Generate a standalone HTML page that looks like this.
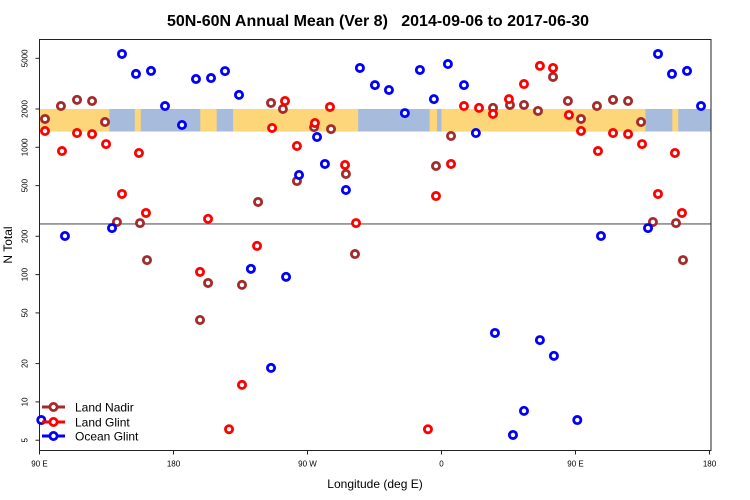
<!DOCTYPE html>
<html><head><meta charset="utf-8"><style>
html,body{margin:0;padding:0;background:#fff;}
svg{display:block;font-family:"Liberation Sans",Arial,sans-serif;}
</style></head><body>
<svg id="chart" width="750" height="500" viewBox="0 0 750 500" xmlns="http://www.w3.org/2000/svg">
<text x="378" y="26" text-anchor="middle" font-size="16" font-weight="bold" textLength="422" lengthAdjust="spacingAndGlyphs">50N-60N Annual Mean (Ver 8)&#160;&#160;&#160;2014-09-06 to 2017-06-30</text>
<g id="band"></g>
<g id="grid"></g>
<g id="axes"></g>
<g id="marks"></g>
<text x="375" y="488" text-anchor="middle" font-size="12">Longitude (deg E)</text>
<text transform="translate(12,245) rotate(-90)" text-anchor="middle" font-size="12">N Total</text>
<g id="legend"></g>
</svg>
<script>
const nadirLon = [93.7,104.4,115.2,125.3,134.0,142.0,157.5,162.2,197.8,203.2,226.0,236.8,245.5,253.5,274.4,285.8,262.9,295.8,301.9,6.4,356.3,34.6,46.0,55.4,64.8,74.9,84.9];
const nadirN   = [1670,2110,2360,2310,1580,259,254,130,44,86,83,372,2230,2000,1440,1390,543,617,145,1227,713,2040,2150,2150,1930,3570,2310];
const glintLon = [93.7,105.1,115.2,125.3,134.7,145.4,156.8,161.5,197.8,203.2,217.3,226.0,236.1,246.2,254.9,262.9,275.0,285.1,295.2,302.6,350.9,356.3,6.4,15.1,25.2,34.6,45.3,55.4,66.1,74.9,85.6];
const glintN   = [1343,935,1295,1270,1060,430,902,305,105,274,6.1,13.6,168,1418,2310,1024,1552,2075,726,254,6.1,414,740,2110,2040,1830,2390,3140,4360,4200,1795];
const oceanLon = [91.2,107.1,138.7,145.4,154.8,164.9,174.3,185.7,195.1,205.2,214.6,224.0,232.0,245.5,255.6,264.3,276.4,281.7,295.8,305.2,315.3,324.7,335.4,345.5,354.9,4.3,15.1,23.1,35.9,48.0,55.4,66.1,75.5];
const oceanN   = [7.2,201,232,5410,3770,3980,2110,1497,3440,3500,3970,2580,111,18.5,96,606,1205,740,462,4200,3080,2820,1857,4050,2390,4510,3080,1295,34.8,5.5,8.5,30.6,23];
const yTicks = [5,10,20,50,100,200,500,1000,2000,5000];
const xTicks = [90,180,270,360,450,540];
const xTickLabels = ["90 E","180","90 W","0","90 E","180"];
const refLine = 250;

const NS="http://www.w3.org/2000/svg";
const L=39.5,R=711,T=39.5,B=450.5;
function xs(lon){return L+(lon-90)*(134/90);}
function ys(v){return 147.3-127.3*Math.log10(v/1000);}
function mk(tag,attrs,parent){const e=document.createElementNS(NS,tag);for(const k in attrs)e.setAttribute(k,attrs[k]);parent.appendChild(e);return e;}

const band=document.getElementById('band');
const yb1=ys(2000), yb2=ys(1330);
mk('rect',{x:L,y:yb1,width:R-L,height:yb2-yb1,fill:'#a7bcdc'},band);
[[90,137],[154,158],[198,209],[220,304],[352,357],[360,487],[450,497],[515,519]].forEach(s=>{
  mk('rect',{x:xs(s[0]),y:yb1,width:xs(s[1])-xs(s[0]),height:yb2-yb1,fill:'#fdd679'},band);
});

const grid=document.getElementById('grid');
const rl=mk('line',{x1:L,x2:R,y1:ys(refLine),y2:ys(refLine),stroke:'#777',"stroke-width":1.3},grid);



const ax=document.getElementById('axes');
mk('rect',{x:L,y:T,width:R-L,height:B-T,fill:'none',stroke:'#222',"stroke-width":1},ax);
yTicks.forEach(v=>{
  const y=ys(v);
  mk('line',{x1:L-4,x2:L,y1:y,y2:y,stroke:'#222'},ax);
  const t=mk('text',{transform:`translate(${L-12},${y}) rotate(-90)`,"text-anchor":"middle","font-size":8},ax);
  t.textContent=v;
  
  
});
xTicks.forEach((v,i)=>{
  const x=xs(v);
  mk('line',{x1:x,x2:x,y1:B,y2:B+4,stroke:'#222'},ax);
  const t=mk('text',{x:x,y:B+16,"text-anchor":"middle","font-size":8},ax);
  t.textContent=xTickLabels[i];
  
  
});

const marks=document.getElementById('marks');
function series(lons,vals,color,name){
  const g=mk('g',{},marks);
  
  
  lons.forEach((lon,i)=>{
    let l=lon<90?lon+360:lon;
    const pos=[l]; if(l+360<=540) pos.push(l+360);
    pos.forEach(p=>{
      const c=mk('circle',{cx:xs(p),cy:ys(vals[i]),r:3.6,fill:'#fff',stroke:color,"stroke-width":2.8},g);
      
      
    });
  });
}
series(nadirLon,nadirN,'#a52a2a','land-nadir');
series(glintLon,glintN,'#ff0000','land-glint');
series(oceanLon,oceanN,'#0000ff','ocean-glint');

const lg=document.getElementById('legend');
[['Land Nadir','#a52a2a',407],['Land Glint','#ff0000',422],['Ocean Glint','#0000ff',436]].forEach(e=>{
  const g=mk('g',{},lg);
  
  
  mk('line',{x1:42,x2:65,y1:e[2],y2:e[2],stroke:e[1],"stroke-width":3},g);
  mk('circle',{cx:53.5,cy:e[2],r:3.6,fill:'#fff',stroke:e[1],"stroke-width":2.8},g);
  const t=mk('text',{x:75,y:e[2]+4.5,"font-size":12},g);
  t.textContent=e[0];
});
</script>
</body></html>
